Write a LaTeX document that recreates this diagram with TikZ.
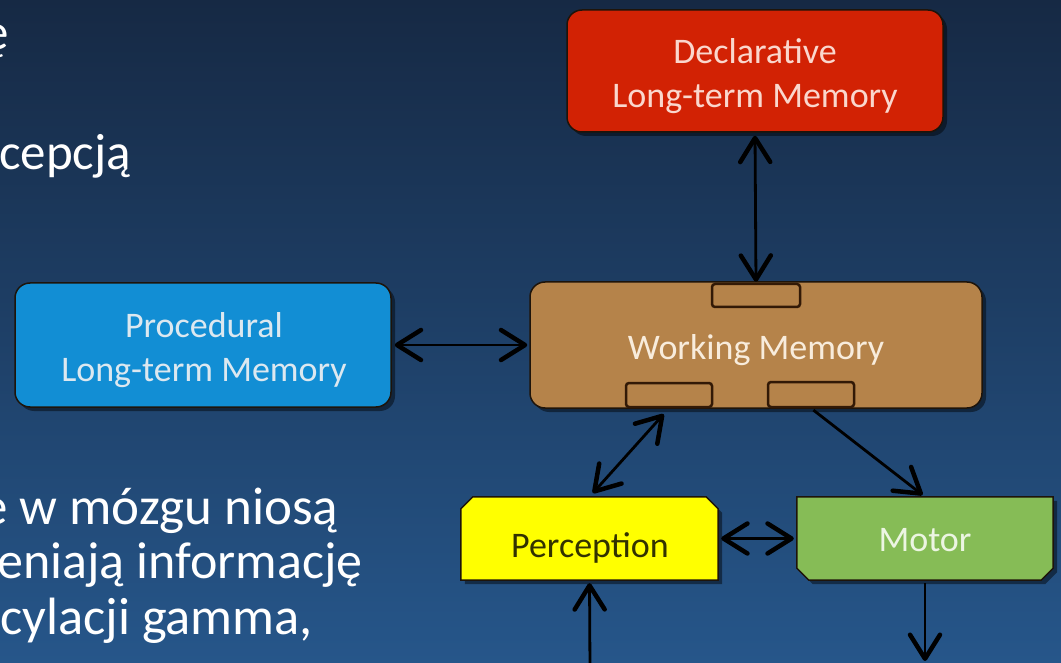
\documentclass[tikz,border=0pt]{standalone}
\usepackage{fontspec}
\setmainfont{Carlito}
\usetikzlibrary{arrows.meta,shadows}
\definecolor{bgtop}{RGB}{22,41,68}
\definecolor{bgbot}{RGB}{38,86,138}
\definecolor{declred}{RGB}{210,34,4}
\definecolor{procblue}{RGB}{18,142,212}
\definecolor{wmbrown}{RGB}{181,131,74}
\definecolor{percyellow}{RGB}{255,255,0}
\definecolor{motorgreen}{RGB}{134,188,86}
\definecolor{outl}{RGB}{30,20,10}
\definecolor{slotline}{RGB}{50,25,6}
\definecolor{decltext}{RGB}{250,215,205}
\definecolor{proctext}{RGB}{220,232,240}
\definecolor{wmtextc}{RGB}{248,236,220}
\definecolor{perctextc}{RGB}{50,50,0}
\definecolor{motortextc}{RGB}{236,245,226}
\tikzset{
  boxfont/.style={font=\fontsize{36}{44}\selectfont},
  shadowed/.style={drop shadow={shadow xshift=4pt, shadow yshift=-4pt, opacity=0.45, fill=black}},
  memorybox/.style={rectangle, rounded corners=15pt, draw=outl, line width=1.5pt,
     inner sep=0pt, shadowed},
  boxlabel/.style={boxfont, align=center, inner sep=0pt},
  slot/.style={rectangle, rounded corners=3pt, draw=slotline, line width=2.5pt,
     fill=wmbrown, inner sep=0pt},
  anchorbox/.style={rectangle, inner sep=0pt},
  chamferline/.style={draw=outl, line width=1.5pt, line join=miter, shadowed},
  conn/.style={line width=2.8pt, black},
  sidetext/.style={anchor=base west, inner sep=0pt, text=white},
  barb/.tip={Straight Barb[length=24pt,width=30pt,line width=4.5pt,round]}
}
\begin{document}
\begin{tikzpicture}[x=1pt,y=-1pt]
\useasboundingbox (0,0) rectangle (1061,663);
\clip (0,0) rectangle (1061,663);
\shade[top color=bgtop, bottom color=bgbot] (0,0) rectangle (1061,663);

% left text (cut by the page edge)
\node[sidetext, font=\fontsize{51}{55}\selectfont] (t1) at (-17,50) {ę};
\node[sidetext, font=\fontsize{51}{55}\selectfont] (t2) at (-1,170) {cepcją};
\node[sidetext, font=\fontsize{53}{55}\selectfont] (t3) at (-19,524) {e w mózgu niosą};
\node[sidetext, font=\fontsize{52}{55}\selectfont] (t4) at (-3,578) {eniają informację};
\node[sidetext, font=\fontsize{52.5}{55}\selectfont] (t5) at (0,634) {cylacji gamma,};

% memory boxes
\node[memorybox, fill=declred, minimum width=376pt, minimum height=122pt] (decl) at (755,71) {};
\node[boxlabel, text=decltext] (decltext) at (755,76) {Declarative\\Long-term Memory};
\node[memorybox, fill=procblue, minimum width=376pt, minimum height=124pt] (proc) at (203,345) {};
\node[boxlabel, text=proctext] (proctext) at (204,350) {Procedural\\Long-term Memory};
\node[memorybox, fill=wmbrown, minimum width=452pt, minimum height=126pt] (wm) at (756,345) {};
\node[boxlabel, text=wmtextc] (wmtext) at (756,350) {Working Memory};
\node[slot, minimum width=88pt, minimum height=23pt] (wmtop) at (756,295.5) {};
\node[slot, minimum width=86pt, minimum height=24pt] (wmbl) at (669,395) {};
\node[slot, minimum width=86pt, minimum height=25pt] (wmbr) at (811,394.5) {};

% perception / motor (chamfered)
\node[anchorbox, minimum width=257pt, minimum height=83pt] (perc) at (589.5,538.5) {};
\path[chamferline, fill=percyellow]
  ([yshift=-12pt]perc.north west) -- ([xshift=12pt]perc.north west)
  -- ([xshift=-12pt]perc.north east) -- ([yshift=-12pt]perc.north east)
  -- (perc.south east) -- (perc.south west) -- cycle;
\node[boxlabel, text=perctextc] (perctext) at (590,548) {Perception};

\node[anchorbox, minimum width=256pt, minimum height=83pt] (motor) at (925,538.5) {};
\path[chamferline, fill=motorgreen]
  (motor.north west) -- (motor.north east)
  -- ([yshift=12pt]motor.south east) -- ([xshift=-12pt]motor.south east)
  -- ([xshift=12pt]motor.south west) -- ([yshift=12pt]motor.south west) -- cycle;
\node[boxlabel, text=motortextc] (motortext) at (925,540) {Motor};

\coordinate (percin) at (590,670);
\coordinate (motorout) at (925,661);

% connectors
\draw[conn, barb-barb, shorten <=3pt, shorten >=1pt] (decl.south) -- (wmtop.north);
\draw[conn, barb-barb, shorten <=3pt, shorten >=2pt] (proc.east) -- (wm.west);
\draw[conn, barb-barb, shorten <=8pt, shorten >=5pt] (wmbl.south) -- (perc.north);
\draw[conn, -barb, shorten <=3pt, shorten >=3pt] (wmbr.south) -- (motor.north);
\draw[conn, barb-barb, shorten <=3pt, shorten >=3pt] (perc.east) -- (motor.west);
\draw[conn, -barb, shorten >=3pt] (percin) -- (perc.south);
\draw[conn, -barb, shorten <=3pt] (motor.south) -- (motorout);
\end{tikzpicture}
\end{document}
